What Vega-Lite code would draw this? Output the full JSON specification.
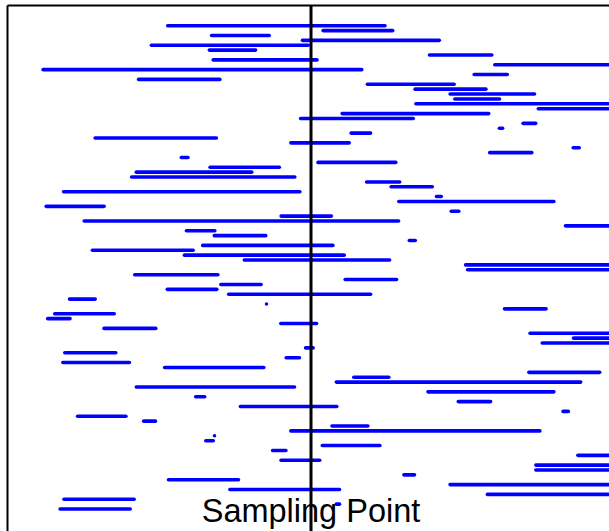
{
  "$schema": "https://vega.github.io/schema/vega-lite/v6.json",
  "width": 602,
  "height": 526,
  "autosize": {"type": "none"},
  "padding": {"left": 7, "top": 5, "right": 0, "bottom": 0},
  "background": "white",
  "config": {"view": {"stroke": null}},
  "datasets": {
    "intervals": [
      {"row": 1, "start": 160.7, "end": 378.0},
      {"row": 2, "start": 316.1, "end": 385.7},
      {"row": 3, "start": 204.6, "end": 262.2},
      {"row": 4, "start": 295.5, "end": 432.3},
      {"row": 5, "start": 144.4, "end": 301.1},
      {"row": 6, "start": 202.3, "end": 248.6},
      {"row": 7, "start": 422.5, "end": 484.8},
      {"row": 8, "start": 206.2, "end": 310.0},
      {"row": 9, "start": 487.8, "end": 615},
      {"row": 10, "start": 36.1, "end": 354.7},
      {"row": 11, "start": 467.2, "end": 500.3},
      {"row": 12, "start": 131.6, "end": 212.9},
      {"row": 13, "start": 360.4, "end": 447.1},
      {"row": 14, "start": 408.1, "end": 478.9},
      {"row": 15, "start": 443.1, "end": 527.5},
      {"row": 16, "start": 447.8, "end": 492.5},
      {"row": 17, "start": 408.9, "end": 615},
      {"row": 18, "start": 531.3, "end": 615},
      {"row": 19, "start": 335.1, "end": 481.7},
      {"row": 20, "start": 293.6, "end": 406.3},
      {"row": 21, "start": 516.1, "end": 528.7},
      {"row": 22, "start": 492.4, "end": 495.6},
      {"row": 23, "start": 344.1, "end": 363.6},
      {"row": 24, "start": 88.1, "end": 209.4},
      {"row": 25, "start": 283.9, "end": 342.2},
      {"row": 26, "start": 566.2, "end": 572.2},
      {"row": 27, "start": 482.7, "end": 524.8},
      {"row": 28, "start": 174.3, "end": 181.0},
      {"row": 29, "start": 311.0, "end": 388.8},
      {"row": 30, "start": 203.1, "end": 272.3},
      {"row": 31, "start": 129.3, "end": 244.7},
      {"row": 32, "start": 124.6, "end": 287.8},
      {"row": 33, "start": 359.6, "end": 392.7},
      {"row": 34, "start": 384.1, "end": 425.3},
      {"row": 35, "start": 56.6, "end": 292.9},
      {"row": 36, "start": 429.5, "end": 434.3},
      {"row": 37, "start": 391.8, "end": 546.9},
      {"row": 38, "start": 39.2, "end": 97.1},
      {"row": 39, "start": 444.3, "end": 451.8},
      {"row": 40, "start": 274.1, "end": 324.4},
      {"row": 41, "start": 77.2, "end": 391.6},
      {"row": 42, "start": 558.5, "end": 615},
      {"row": 43, "start": 179.4, "end": 207.8},
      {"row": 44, "start": 207.3, "end": 258.7},
      {"row": 45, "start": 402.3, "end": 408.3},
      {"row": 46, "start": 195.7, "end": 325.9},
      {"row": 47, "start": 85.4, "end": 186.1},
      {"row": 48, "start": 177.4, "end": 337.2},
      {"row": 49, "start": 237.3, "end": 382.6},
      {"row": 50, "start": 458.6, "end": 615},
      {"row": 51, "start": 460.6, "end": 615},
      {"row": 52, "start": 127.7, "end": 210.9},
      {"row": 53, "start": 338.2, "end": 389.6},
      {"row": 54, "start": 213.9, "end": 254.1},
      {"row": 55, "start": 160.3, "end": 209.8},
      {"row": 56, "start": 221.7, "end": 363.6},
      {"row": 57, "start": 62.5, "end": 88.2},
      {"row": 58, "start": 259.5, "end": 259.5},
      {"row": 59, "start": 497.5, "end": 539.1},
      {"row": 60, "start": 47.7, "end": 107.2},
      {"row": 61, "start": 40.7, "end": 63.0},
      {"row": 62, "start": 273.8, "end": 309.6},
      {"row": 63, "start": 97.0, "end": 148.8},
      {"row": 64, "start": 523.1, "end": 615},
      {"row": 65, "start": 566.6, "end": 615},
      {"row": 66, "start": 535.2, "end": 615},
      {"row": 67, "start": 298.6, "end": 306.1},
      {"row": 68, "start": 57.8, "end": 108.8},
      {"row": 69, "start": 279.2, "end": 292.5},
      {"row": 70, "start": 55.9, "end": 122.4},
      {"row": 71, "start": 157.6, "end": 256.8},
      {"row": 72, "start": 521.9, "end": 592.7},
      {"row": 73, "start": 346.8, "end": 381.8},
      {"row": 74, "start": 329.3, "end": 573.7},
      {"row": 75, "start": 129.3, "end": 287.5},
      {"row": 76, "start": 421.0, "end": 546.9},
      {"row": 77, "start": 188.7, "end": 197.7},
      {"row": 78, "start": 451.3, "end": 483.6},
      {"row": 79, "start": 233.4, "end": 329.8},
      {"row": 80, "start": 556.1, "end": 561.3},
      {"row": 81, "start": 70.6, "end": 118.9},
      {"row": 82, "start": 136.7, "end": 148.4},
      {"row": 83, "start": 325.0, "end": 360.9},
      {"row": 84, "start": 283.9, "end": 532.9},
      {"row": 85, "start": 207.5, "end": 207.5},
      {"row": 86, "start": 198.8, "end": 206.3},
      {"row": 87, "start": 315.3, "end": 372.9},
      {"row": 88, "start": 265.6, "end": 278.9},
      {"row": 89, "start": 570.9, "end": 615},
      {"row": 90, "start": 274.1, "end": 312.7},
      {"row": 91, "start": 528.9, "end": 615},
      {"row": 92, "start": 528.9, "end": 615},
      {"row": 93, "start": 396.9, "end": 407.5},
      {"row": 94, "start": 161.5, "end": 231.5},
      {"row": 95, "start": 443.1, "end": 615},
      {"row": 96, "start": 222.9, "end": 332.5},
      {"row": 97, "start": 480.4, "end": 615},
      {"row": 98, "start": 57.0, "end": 127.1},
      {"row": 99, "start": 329.3, "end": 332.5},
      {"row": 100, "start": 53.1, "end": 123.2}
    ],
    "sampling": [
      {"point": 304, "row": 102.6, "label": "Sampling Point"}
    ]
  },
  "layer": [
    {
      "data": {"name": "intervals"},
      "mark": {"type": "rule", "color": "#0000FF", "strokeWidth": 3.6, "strokeCap": "round", "clip": true},
      "encoding": {
        "x": {
          "field": "start",
          "type": "quantitative",
          "scale": {"domain": [0, 602], "nice": false, "zero": false},
          "axis": {"orient": "top", "domain": true, "domainColor": "black", "domainWidth": 2, "ticks": false, "labels": false, "grid": false, "title": null}
        },
        "x2": {"field": "end"},
        "y": {
          "field": "row",
          "type": "quantitative",
          "scale": {"domain": [-3.24, 104.5], "reverse": true, "nice": false, "zero": false},
          "axis": {"orient": "left", "domain": true, "domainColor": "black", "domainWidth": 2, "ticks": false, "labels": false, "grid": false, "title": null}
        }
      }
    },
    {
      "data": {"name": "sampling"},
      "mark": {"type": "rule", "color": "black", "strokeWidth": 3},
      "encoding": {
        "x": {"field": "point", "type": "quantitative"}
      }
    },
    {
      "data": {"name": "sampling"},
      "mark": {"type": "text", "font": "Liberation Sans", "fontSize": 32.5, "color": "black", "align": "center", "baseline": "alphabetic", "clip": false},
      "encoding": {
        "x": {"field": "point", "type": "quantitative"},
        "y": {"field": "row", "type": "quantitative"},
        "text": {"field": "label"}
      }
    }
  ]
}
